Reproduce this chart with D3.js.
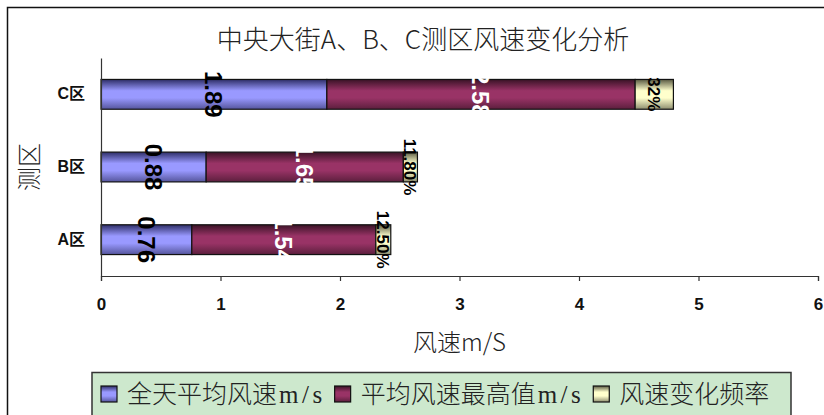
<!DOCTYPE html>
<html>
<head>
<meta charset="utf-8">
<script src="https://cdn.jsdelivr.net/npm/d3@7/dist/d3.min.js"></script>
<style>
  html, body { margin: 0; padding: 0; background: #fff; }
  svg { display: block; }
</style>
</head>
<body>
<svg id="chart" width="824" height="415"></svg>
<script>
// Wind speed by survey zone
const categories = ["A区", "B区", "C区"];
const avgSpeed = [0.76, 0.88, 1.89];      // 全天平均风速 m/s
const peakSpeed = [1.54, 1.65, 2.58];     // 平均风速最高值 m/s
const changeRate = [12.5, 11.8, 32];      // 风速变化频率 (%)
const seriesNames = ["全天平均风速m/s", "平均风速最高值m/s", "风速变化频率"];
const xTicks = [0, 1, 2, 3, 4, 5, 6];
const titleText = "中央大街A、B、C测区风速变化分析";
const xTitle = "风速m/S";
const yTitle = "测区";

const svg = d3.select("#chart");
const CJK = "'Noto Sans CJK SC', 'Noto Sans', sans-serif";
const ARIAL = "'Liberation Sans', Arial, 'Noto Sans CJK SC', sans-serif";

const plot = { left: 101, right: 818, top: 58, bottom: 276 };

const x = d3.scaleLinear().domain([0, 6]).range([plot.left, plot.right]);
const y = d3.scaleBand()
  .domain(categories.slice().reverse())
  .range([plot.top, plot.bottom])
  .paddingInner(0.59)
  .paddingOuter(0.295);

// gradient fills, dark at the edges and light in the middle
const palette = [
  { id: "gBlue",   top: "#2e2e68", mid: "#9999ff", bot: "#55559c" },
  { id: "gMaroon", top: "#3a1326", mid: "#993366", bot: "#5c1f3d" },
  { id: "gCream",  top: "#5a5a42", mid: "#ffffcc", bot: "#8f8f70" }
];
const defs = svg.append("defs");
palette.forEach(p => {
  const g = defs.append("linearGradient").attr("id", p.id)
    .attr("x1", 0).attr("y1", 0).attr("x2", 0).attr("y2", 1);
  g.append("stop").attr("offset", "0%").attr("stop-color", p.top);
  g.append("stop").attr("offset", "38%").attr("stop-color", p.mid);
  g.append("stop").attr("offset", "62%").attr("stop-color", p.mid);
  g.append("stop").attr("offset", "100%").attr("stop-color", p.bot);
});

// outer frame
svg.append("rect")
  .attr("x", 7.5).attr("y", 7.5).attr("width", 900).attr("height", 500)
  .attr("fill", "none").attr("stroke", "#111").attr("stroke-width", 1.5);

// title
svg.append("text")
  .attr("x", 423).attr("y", 49)
  .attr("text-anchor", "middle")
  .style("font-family", CJK).style("font-size", "26px").style("font-weight", 300)
  .attr("fill", "#222")
  .text(titleText);

// stacked segments
const rows = categories.map((c, i) => {
  const a = avgSpeed[i], p = peakSpeed[i], r = changeRate[i] / 100;
  return {
    cat: c,
    segs: [
      { x0: 0, x1: a, fill: "url(#gBlue)", label: d3.format(".2f")(a), color: "#000", size: 24 },
      { x0: a, x1: a + p, fill: "url(#gMaroon)", label: d3.format(".2f")(p), color: "#fff", size: 24 },
      { x0: a + p, x1: a + p + r, fill: "url(#gCream)",
        label: Number.isInteger(changeRate[i]) ? d3.format(".0f")(changeRate[i]) + "%" : d3.format(".2f")(changeRate[i]) + "%",
        color: "#000", size: 17 }
    ]
  };
});

const bars = svg.append("g");
rows.forEach(row => {
  bars.selectAll(null).data(row.segs).enter().append("rect")
    .attr("x", d => x(d.x0))
    .attr("y", y(row.cat))
    .attr("width", d => x(d.x1) - x(d.x0))
    .attr("height", y.bandwidth())
    .attr("fill", d => d.fill)
    .attr("stroke", "#111")
    .attr("stroke-width", 1.2);
});

// axes
const xAxis = d3.axisBottom(x).tickValues(xTicks).tickFormat(d3.format("d")).tickSizeOuter(0).tickSize(5);
const gx = svg.append("g").attr("transform", `translate(0,${plot.bottom})`).call(xAxis);
gx.select(".domain").attr("stroke", "#333").attr("stroke-width", 1.2);
gx.selectAll(".tick line").attr("stroke", "#333").attr("stroke-width", 1.2);
gx.selectAll(".tick text")
  .attr("y", 0).attr("dy", 0)
  .attr("transform", "translate(0,34)")
  .style("font-family", ARIAL).style("font-size", "17px").style("font-weight", "bold")
  .attr("fill", "#111");

const yAxis = d3.axisLeft(y).tickSize(0).tickPadding(16);
const gy = svg.append("g").attr("transform", `translate(${plot.left},0)`).call(yAxis);
gy.select(".domain").attr("stroke", "#333").attr("stroke-width", 1.2);
gy.selectAll(".tick text")
  .style("font-family", ARIAL).style("font-size", "16px").style("font-weight", "bold")
  .attr("fill", "#111");

// data labels, rotated to read downward
const labels = svg.append("g");
rows.forEach(row => {
  labels.selectAll(null).data(row.segs).enter().append("text")
    .attr("transform", d => `translate(${x((d.x0 + d.x1) / 2)},${y(row.cat) + y.bandwidth() / 2}) rotate(90)`)
    .attr("text-anchor", "middle")
    .attr("dy", "0.36em")
    .style("font-family", ARIAL)
    .style("font-size", d => d.size + "px")
    .style("font-weight", "bold")
    .attr("fill", d => d.color)
    .text(d => d.label);
});

// axis titles
svg.append("text")
  .attr("x", x(3)).attr("y", 351)
  .attr("text-anchor", "middle")
  .style("font-family", CJK).style("font-size", "24px").style("font-weight", 300)
  .attr("fill", "#222")
  .text(xTitle);

svg.append("text")
  .attr("transform", `translate(38,${(plot.top + plot.bottom) / 2}) rotate(-90)`)
  .attr("text-anchor", "middle")
  .style("font-family", CJK).style("font-size", "24px").style("font-weight", 300)
  .attr("fill", "#222")
  .text(yTitle);

// legend
const legend = svg.append("g");
legend.append("rect")
  .attr("x", 92).attr("y", 372.5).attr("width", 699).attr("height", 60)
  .attr("fill", "#cde8cd").attr("stroke", "#333").attr("stroke-width", 1.5);

let lx = 101;
seriesNames.forEach((name, i) => {
  legend.append("rect")
    .attr("x", lx).attr("y", 386).attr("width", 16).attr("height", 16)
    .attr("fill", `url(#${palette[i].id})`)
    .attr("stroke", "#111").attr("stroke-width", 1.2);
  const m = name.match(/^(.*?)(m\/s)?$/);
  const t = legend.append("text")
    .attr("x", lx + 26).attr("y", 403)
    .attr("fill", "#222")
    .style("font-size", "25px");
  t.append("tspan").style("font-family", CJK).style("font-weight", 300).text(m[1]);
  if (m[2]) t.append("tspan")
    .style("font-family", "'Liberation Serif', 'DejaVu Serif', serif")
    .style("letter-spacing", "3.5px")
    .attr("dx", 2)
    .text(m[2]);
  lx += 26 + t.node().getComputedTextLength() + 11;
});
</script>
</body>
</html>
